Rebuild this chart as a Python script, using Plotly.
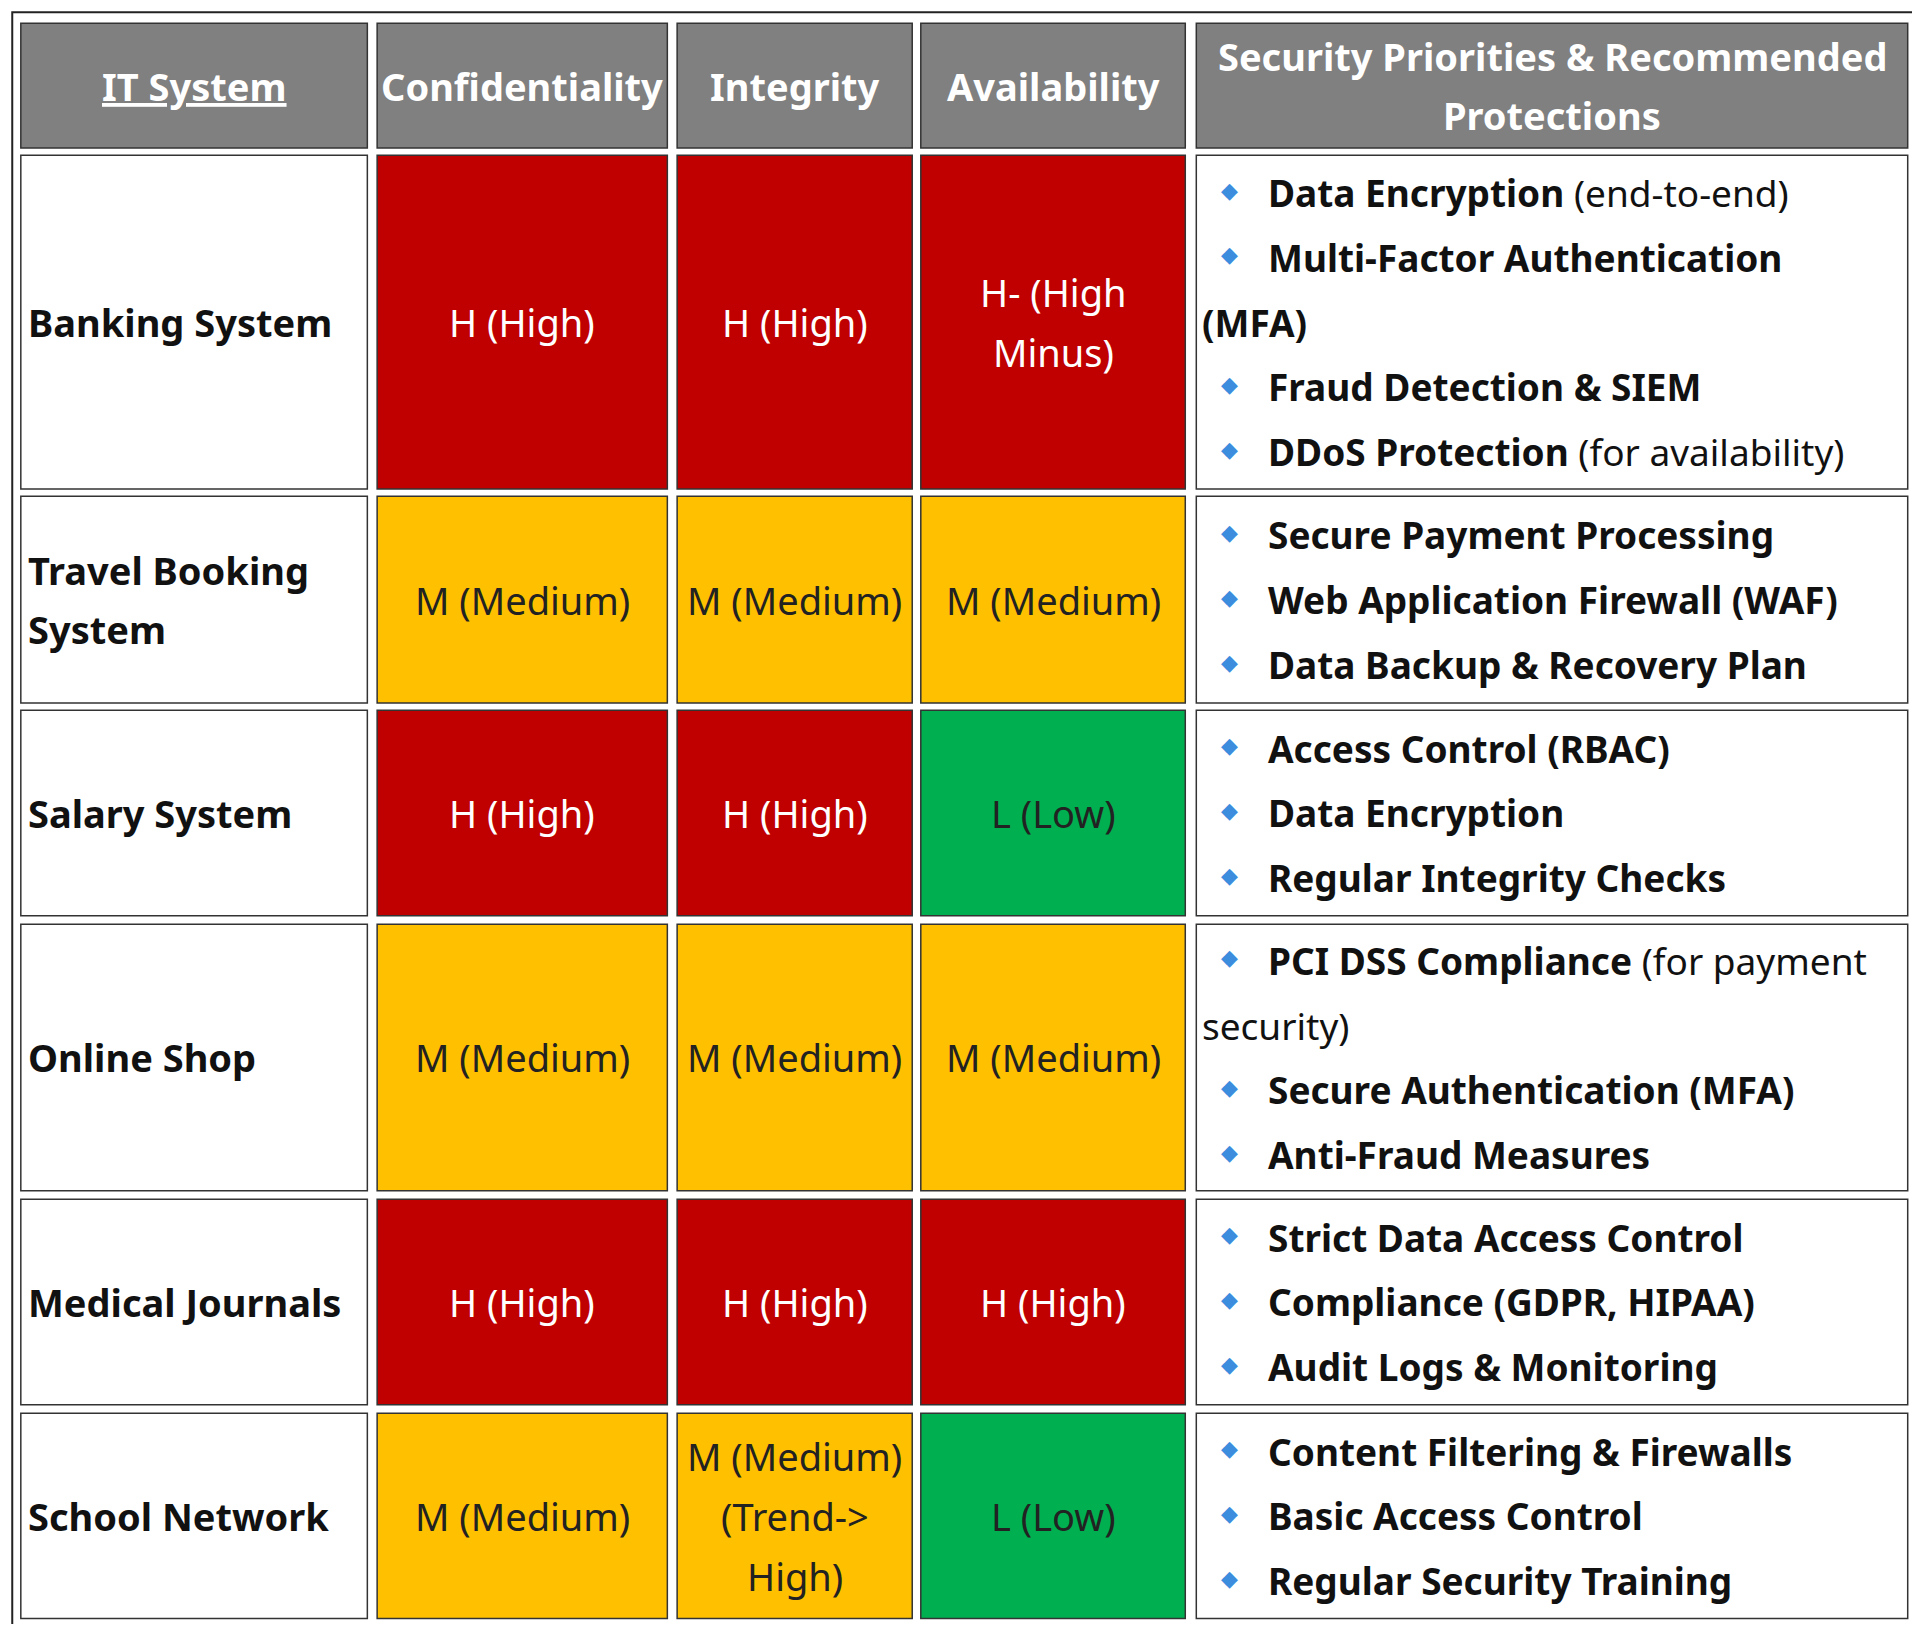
import plotly.graph_objects as go

# data
headers = ["<u>IT System</u>", "Confidentiality", "Integrity", "Availability",
           "Security Priorities & Recommended<br>Protections"]
systems = ["Banking System", "Travel Booking<br>System", "Salary System",
           "Online Shop", "Medical Journals", "School Network"]
confidentiality = ["H (High)", "M (Medium)", "H (High)", "M (Medium)", "H (High)", "M (Medium)"]
integrity = ["H (High)", "M (Medium)", "H (High)", "M (Medium)", "H (High)",
             "M (Medium)<br>(Trend-><br>High)"]
availability = ["H- (High<br>Minus)", "M (Medium)", "L (Low)", "M (Medium)", "H (High)", "L (Low)"]
# lines of protections; a leading "~" marks a wrapped continuation line
protections = [
    ["<b>Data Encryption</b> (end-to-end)", "<b>Multi-Factor Authentication</b>", "~<b>(MFA)</b>",
     "<b>Fraud Detection & SIEM</b>", "<b>DDoS Protection</b> (for availability)"],
    ["<b>Secure Payment Processing</b>", "<b>Web Application Firewall (WAF)</b>",
     "<b>Data Backup & Recovery Plan</b>"],
    ["<b>Access Control (RBAC)</b>", "<b>Data Encryption</b>", "<b>Regular Integrity Checks</b>"],
    ["<b>PCI DSS Compliance</b> (for payment", "~security)", "<b>Secure Authentication (MFA)</b>",
     "<b>Anti-Fraud Measures</b>"],
    ["<b>Strict Data Access Control</b>", "<b>Compliance (GDPR, HIPAA)</b>", "<b>Audit Logs & Monitoring</b>"],
    ["<b>Content Filtering & Firewalls</b>", "<b>Basic Access Control</b>", "<b>Regular Security Training</b>"],
]

level_colors = {"H": "#C00000", "M": "#FFC000", "L": "#00B050"}
level_font = {"H": "white", "M": "#222222", "L": "#222222"}

# geometry (reference pixel units)
col_x = [(17, 300), (308, 545), (553, 745), (752, 968), (977, 1558)]
header_y = (19, 121)
row_y = [(127, 400), (406, 575), (581, 749), (756, 974), (981, 1149), (1156, 1324)]

FONT = "Noto Sans"
fig = go.Figure()
shapes, annos = [], []


def rect(x0, x1, y0, y1, fill, line="#333333", w=1.5):
    shapes.append(dict(type="rect", x0=x0, x1=x1, y0=y0, y1=y1, fillcolor=fill,
                       line=dict(color=line, width=w), layer="below"))


def lines(text, x, yc, spacing, anchor, color, size, bold=False):
    parts = text.split("<br>")
    for i, p in enumerate(parts):
        y = yc + (i - (len(parts) - 1) / 2) * spacing
        annos.append(dict(x=x, y=y, text=f"<b>{p}</b>" if bold else p, showarrow=False,
                          xanchor=anchor, yanchor="middle",
                          font=dict(family=FONT, size=size, color=color)))


shapes.append(dict(type="rect", x0=10, x1=1565, y0=10, y1=1330, line=dict(color="#222222", width=2)))

for j, h in enumerate(headers):
    x0, x1 = col_x[j]
    rect(x0, x1, *header_y, "#808080")
    lines(h, (x0 + x1) / 2, sum(header_y) / 2, 48, "center", "white", 38, bold=True)

for i, sysname in enumerate(systems):
    y0, y1 = row_y[i]
    yc = (y0 + y1) / 2
    rect(*col_x[0], y0, y1, "white")
    lines(sysname, 21, yc, 48, "left", "#111111", 38, bold=True)
    for j, val in zip((1, 2, 3), (confidentiality[i], integrity[i], availability[i])):
        lv = val[0]
        x0, x1 = col_x[j]
        rect(x0, x1, y0, y1, level_colors[lv])
        lines(val, (x0 + x1) / 2, yc, 49, "center", level_font[lv], 38)
    rect(*col_x[4], y0, y1, "white")
    pl = protections[i]
    for k, p in enumerate(pl):
        y = yc + (k - (len(pl) - 1) / 2) * 53
        if p.startswith("~"):
            annos.append(dict(x=980, y=y, text=p[1:], showarrow=False, xanchor="left", yanchor="middle",
                              font=dict(family=FONT, size=37, color="#111111")))
        else:
            annos.append(dict(x=1004, y=y - 2, text="◆", showarrow=False, xanchor="center", yanchor="middle",
                              font=dict(family="DejaVu Sans", size=22, color="#3C8DDE")))
            annos.append(dict(x=1034, y=y, text=p, showarrow=False, xanchor="left", yanchor="middle",
                              font=dict(family=FONT, size=37, color="#111111")))

# page body has an 8px margin: size the figure and ranges to compensate
fig.update_layout(
    width=1904, height=1616, margin=dict(l=0, r=0, t=0, b=0),
    plot_bgcolor="white", paper_bgcolor="white",
    xaxis=dict(range=[6.53, 1561.5], visible=False, fixedrange=True),
    yaxis=dict(range=[1328.4, 6.54], visible=False, fixedrange=True),
    shapes=shapes, annotations=annos, showlegend=False,
)
fig.write_html("out.html")
